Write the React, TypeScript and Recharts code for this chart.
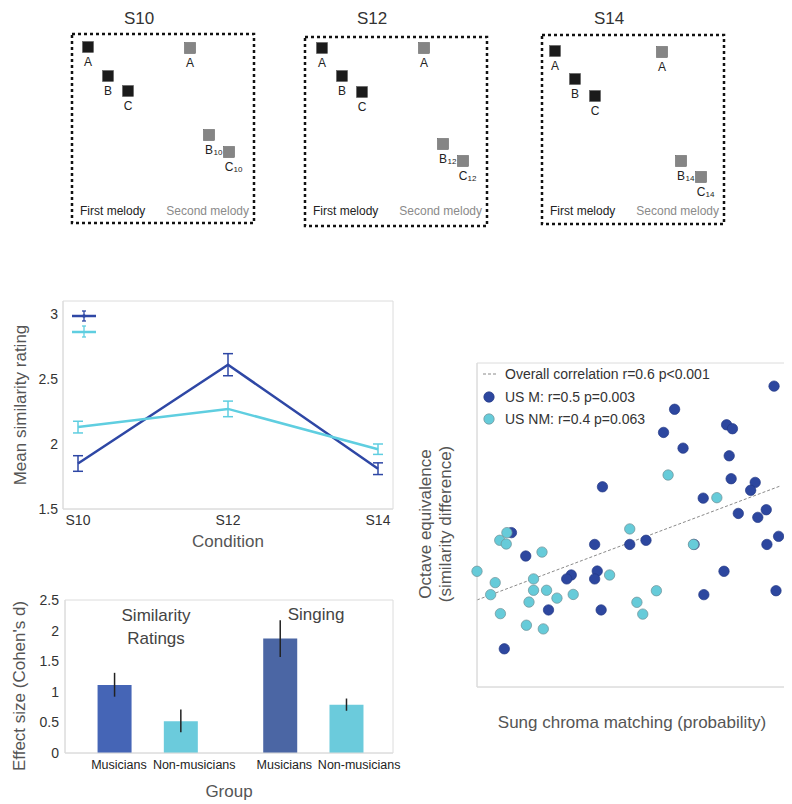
import React from "react";
import {
  LineChart,
  Line,
  BarChart,
  Bar,
  Cell,
  ScatterChart,
  Scatter,
  XAxis,
  YAxis,
  ErrorBar,
  ReferenceArea,
  ReferenceLine,
} from "recharts";

const FONT = "'Liberation Sans', Arial, Helvetica, sans-serif";
const DARK = "#2e47a5";
const CYAN = "#5fcee0";
const FRAME = "#dcdcdc";

// schematic panels: note positions inside each box (box units, origin top-left)
const panelNames = ["S10", "S12", "S14"];
const noteLetters = ["A", "B", "C"];
const firstX = [[16, 36, 56], [17, 37, 57], [13, 33, 53]];
const firstY = [[13, 42, 57], [11, 39, 55], [16, 44, 61]];
const secondX = [[118, 137, 157], [119, 138, 158], [120, 139, 159]];
const secondY = [[14, 101, 118], [11, 107, 124], [17, 126, 142]];
const secondSubs = [["", "10", "10"], ["", "12", "12"], ["", "14", "14"]];

// similarity ratings by condition
const conditions = [10, 12, 14];
const conditionLabels = ["S10", "S12", "S14"];
const ratingTicks = [1.5, 2, 2.5, 3];
const musiciansMean = [1.85, 2.61, 1.81];
const musiciansErr = [0.06, 0.085, 0.045];
const nonMusiciansMean = [2.13, 2.27, 1.96];
const nonMusiciansErr = [0.045, 0.06, 0.04];

// effect sizes
const groupPos = [1, 2, 3.5, 4.5];
const groupTickPos = [1.065, 2.2, 3.56, 4.69];
const groupLabels = ["Musicians", "Non-musicians", "Musicians", "Non-musicians"];
const effectTicks = [0, 0.5, 1, 1.5, 2, 2.5];
const effectSize = [1.11, 0.52, 1.87, 0.79];
const effectErrLow = [0.19, 0.18, 0.3, 0.1];
const effectErrHigh = [0.2, 0.19, 0.3, 0.1];
const barColors = ["#4565b6", "#6bcbdc", "#4b66a4", "#6bcbdc"];

// chroma matching vs octave equivalence
const musiciansPts: [number, number][] = [
  [0.693, 0.265], [0.553, 0.067], [0.681, 0.016], [0.575, -0.034], [0.645, -0.116],
  [0.638, -0.133], [0.685, -0.099], [0.681, -0.133], [0.61, -0.267], [0.691, -0.267],
  [0.542, -0.435], [0.735, 0.016], [0.957, 0.7], [0.804, 0.6], [0.787, 0.5],
  [0.884, 0.533], [0.893, 0.516], [0.817, 0.432], [0.888, 0.399], [0.891, 0.3],
  [0.928, 0.284], [0.921, 0.25], [0.848, 0.216], [0.902, 0.15], [0.945, 0.166],
  [0.932, 0.133], [0.76, 0.034], [0.834, 0.016], [0.946, 0.016], [0.964, 0.051],
  [0.88, -0.1], [0.849, -0.201], [0.96, -0.184],
];
const nonMusiciansPts: [number, number][] = [
  [0.546, 0.067], [0.535, 0.034], [0.545, 0.018], [0.6, -0.017], [0.5, -0.1],
  [0.528, -0.149], [0.587, -0.133], [0.521, -0.201], [0.587, -0.182], [0.607, -0.182],
  [0.623, -0.216], [0.648, -0.2], [0.58, -0.233], [0.536, -0.283], [0.576, -0.333],
  [0.602, -0.349], [0.735, 0.083], [0.704, -0.116], [0.794, 0.316], [0.869, 0.218],
  [0.833, 0.016], [0.776, -0.184], [0.746, -0.234], [0.755, -0.285],
];
const overallFit = [
  { x: 0.5, y: -0.224 },
  { x: 0.966, y: 0.268 },
];

const boxLeft = [72, 305, 542];
const boxTop = [34, 37, 35];
const BOX_W = 182;
const BOX_H = 189;

function Txt({
  x,
  y,
  size,
  color = "#444",
  rotate = 0,
  anchor = "middle",
  lineHeight = 1.15,
  children,
}: any) {
  const tx = anchor === "middle" ? "-50%" : anchor === "end" ? "-100%" : "0";
  return (
    <div
      style={{
        position: "absolute",
        left: x - 8,
        top: y - 8,
        transform: `translate(${tx},-50%) rotate(${rotate}deg)`,
        fontSize: size,
        color,
        whiteSpace: "nowrap",
        lineHeight,
        textAlign: "center",
      }}
    >
      {children}
    </div>
  );
}

function noteShape(fill: string) {
  return (props: any) => {
    const { cx, cy, payload } = props;
    return (
      <g>
        <rect x={cx - 5.5} y={cy - 5.5} width={11} height={11} fill={fill} stroke="#555" strokeWidth={0.5} />
        <text x={cx} y={cy + 19} textAnchor="middle" fontSize={12} fill="#222">
          {payload.label}
        </text>
        {payload.sub ? (
          <text x={cx + 4.5} y={cy + 20} textAnchor="start" fontSize={8} fill="#222">
            {payload.sub}
          </text>
        ) : null}
      </g>
    );
  };
}

function MelodyPanel({ i }: { i: number }) {
  const M = 6;
  const first = noteLetters.map((label, k) => ({ x: firstX[i][k], y: firstY[i][k], label, sub: "" }));
  const second = noteLetters.map((label, k) => ({
    x: secondX[i][k],
    y: secondY[i][k],
    label,
    sub: secondSubs[i][k],
  }));
  return (
    <div style={{ position: "absolute", left: boxLeft[i] - 8 - M, top: boxTop[i] - 8 - M }}>
      <ScatterChart width={BOX_W + 2 * M} height={BOX_H + 2 * M} margin={{ top: M, right: M, bottom: M, left: M }}>
        <XAxis type="number" dataKey="x" domain={[0, BOX_W]} hide />
        <YAxis type="number" dataKey="y" domain={[0, BOX_H]} reversed hide />
        <ReferenceArea
          x1={0}
          x2={BOX_W}
          y1={0}
          y2={BOX_H}
          fill="none"
          fillOpacity={0}
          stroke="#111"
          strokeWidth={2.5}
          strokeDasharray="3 3"
        />
        <Scatter data={first} shape={noteShape("#1b1b1b")} isAnimationActive={false} />
        <Scatter data={second} shape={noteShape("#858585")} isAnimationActive={false} />
      </ScatterChart>
    </div>
  );
}

const lineData = conditions.map((c, i) => ({
  cond: c,
  mus: musiciansMean[i],
  musErr: musiciansErr[i],
  non: nonMusiciansMean[i],
  nonErr: nonMusiciansErr[i],
}));

const barData = groupPos.map((p, i) => ({
  pos: p,
  d: effectSize[i],
  err: [effectErrLow[i], effectErrHigh[i]],
}));

const musData = musiciansPts.map(([x, y]) => ({ x, y }));
const nonData = nonMusiciansPts.map(([x, y]) => ({ x, y }));

const dot = (fill: string, stroke: string) => (props: any) => (
  <circle cx={props.cx} cy={props.cy} r={5.2} fill={fill} stroke={stroke} strokeWidth={0.7} />
);

const tickStyle = { fill: "#333", fontSize: 14 };

export default function App() {
  return (
    <div style={{ position: "relative", width: 784, height: 796, overflow: "hidden", fontFamily: FONT }}>
      {/* schematic panels */}
      {panelNames.map((name, i) => (
        <React.Fragment key={name}>
          <MelodyPanel i={i} />
          <Txt x={boxLeft[i] + 67} y={19} size={17} color="#333">
            {name}
          </Txt>
          <Txt x={boxLeft[i] + 8} y={212} size={12} color="#222" anchor="start">
            First melody
          </Txt>
          <Txt x={boxLeft[i] + 177} y={212} size={12} color="#8a8a8a" anchor="end">
            Second melody
          </Txt>
        </React.Fragment>
      ))}

      {/* mean similarity rating */}
      <div style={{ position: "absolute", left: 0, top: 282 }}>
        <LineChart width={400} height={265} data={lineData} margin={{ top: 11, right: 15, left: 0, bottom: 0 }}>
          <XAxis
            dataKey="cond"
            type="number"
            domain={[9.8, 14.2]}
            ticks={conditions}
            interval={0}
            tickFormatter={(v: number) => conditionLabels[conditions.indexOf(v)]}
            axisLine={{ stroke: FRAME }}
            tickLine={false}
            tickSize={0}
            tickMargin={6}
            height={46}
            tick={tickStyle}
          />
          <YAxis
            type="number"
            domain={[1.5, 3.1]}
            ticks={ratingTicks}
            interval={0}
            width={55}
            axisLine={{ stroke: FRAME }}
            tickLine={false}
            tickSize={0}
            tickMargin={5}
            tick={tickStyle}
          />
          <ReferenceArea x1={9.8} x2={14.2} y1={1.5} y2={3.1} fill="none" fillOpacity={0} stroke={FRAME} />
          <Line dataKey="mus" stroke={DARK} strokeWidth={2.5} dot={false} isAnimationActive={false}>
            <ErrorBar dataKey="musErr" width={5} stroke={DARK} strokeWidth={1.5} />
          </Line>
          <Line dataKey="non" stroke={CYAN} strokeWidth={2.5} dot={false} isAnimationActive={false}>
            <ErrorBar dataKey="nonErr" width={5} stroke={CYAN} strokeWidth={1.5} />
          </Line>
        </LineChart>
      </div>
      <div style={{ position: "absolute", left: 64, top: 300 }}>
        <svg width={26} height={34}>
          <line x1={0} x2={24} y1={8} y2={8} stroke={DARK} strokeWidth={2.5} />
          <line x1={12} x2={12} y1={3} y2={13} stroke={DARK} strokeWidth={1.3} />
          <line x1={10} x2={14} y1={3} y2={3} stroke={DARK} strokeWidth={1.3} />
          <line x1={10} x2={14} y1={13} y2={13} stroke={DARK} strokeWidth={1.3} />
          <circle cx={12} cy={8} r={1.8} fill={DARK} />
          <line x1={0} x2={24} y1={24} y2={24} stroke={CYAN} strokeWidth={2.5} />
          <line x1={12} x2={12} y1={18} y2={29} stroke={CYAN} strokeWidth={1.3} />
          <line x1={10} x2={14} y1={18} y2={18} stroke={CYAN} strokeWidth={1.3} />
          <line x1={10} x2={14} y1={29} y2={29} stroke={CYAN} strokeWidth={1.3} />
        </svg>
      </div>
      <Txt x={21} y={405} size={17} color="#555" rotate={-90}>
        Mean similarity rating
      </Txt>
      <Txt x={228} y={542} size={17} color="#555">
        Condition
      </Txt>

      {/* effect size */}
      <div style={{ position: "absolute", left: 0, top: 577 }}>
        <BarChart width={400} height={200} data={barData} margin={{ top: 15, right: 15, left: 0, bottom: 0 }}>
          <XAxis
            dataKey="pos"
            type="number"
            domain={[0.25, 5.2]}
            ticks={groupTickPos}
            interval={0}
            tickFormatter={(v: number) => groupLabels[groupTickPos.indexOf(v)]}
            axisLine={{ stroke: FRAME }}
            tickLine={false}
            tickSize={0}
            tickMargin={7}
            height={32}
            tick={{ fill: "#222", fontSize: 12.5 }}
          />
          <YAxis
            type="number"
            domain={[0, 2.5]}
            ticks={effectTicks}
            interval={0}
            width={57}
            axisLine={{ stroke: FRAME }}
            tickLine={false}
            tickSize={0}
            tickMargin={6}
            tick={tickStyle}
          />
          <ReferenceArea x1={0.25} x2={5.2} y1={0} y2={2.5} fill="none" fillOpacity={0} stroke={FRAME} />
          <Bar dataKey="d" barSize={34} isAnimationActive={false}>
            {barData.map((_, i) => (
              <Cell key={i} fill={barColors[i]} />
            ))}
            <ErrorBar dataKey="err" width={0} stroke="#222" strokeWidth={1.5} />
          </Bar>
        </BarChart>
      </div>
      <Txt x={20} y={686} size={17} color="#555" rotate={-90}>
        Effect size (Cohen's d)
      </Txt>
      <Txt x={229} y={792} size={17} color="#555">
        Group
      </Txt>
      <Txt x={156} y={627} size={17} color="#444" lineHeight="23px">
        Similarity
        <br />
        Ratings
      </Txt>
      <Txt x={316} y={615} size={17} color="#444">
        Singing
      </Txt>

      {/* scatter */}
      <div style={{ position: "absolute", left: 392, top: 347 }}>
        <ScatterChart width={410} height={338} margin={{ top: 8, right: 8, left: 77, bottom: 6 }}>
          <XAxis
            type="number"
            dataKey="x"
            domain={[0.5, 1.0]}
            ticks={[0.6, 0.7, 0.8, 0.9]}
            tick={false}
            mirror
            height={1}
            tickSize={4}
            axisLine={{ stroke: FRAME }}
            tickLine={{ stroke: "#cfcfcf" }}
          />
          <YAxis
            type="number"
            dataKey="y"
            domain={[-0.6, 0.8]}
            ticks={[-0.4, -0.2, 0, 0.2, 0.4, 0.6]}
            tick={false}
            mirror
            width={1}
            tickSize={4}
            axisLine={{ stroke: FRAME }}
            tickLine={{ stroke: "#cfcfcf" }}
          />
          <ReferenceArea x1={0.5} x2={1.0} y1={-0.6} y2={0.8} fill="none" fillOpacity={0} stroke={FRAME} />
          <ReferenceLine segment={overallFit} stroke="#8a8a8a" strokeDasharray="3 2" strokeWidth={1} />
          <Scatter data={musData} shape={dot("#2d479f", "#243a85")} isAnimationActive={false} />
          <Scatter data={nonData} shape={dot("#66cbd9", "#6f8f95")} isAnimationActive={false} />
        </ScatterChart>
      </div>
      <div style={{ position: "absolute", left: 474, top: 358 }}>
        <svg width={18} height={70}>
          <line x1={1} x2={15} y1={8} y2={8} stroke="#8a8a8a" strokeDasharray="3 2" />
          <circle cx={7} cy={31} r={5.2} fill="#2d479f" stroke="#243a85" strokeWidth={0.7} />
          <circle cx={7} cy={53} r={5.2} fill="#66cbd9" stroke="#6f8f95" strokeWidth={0.7} />
        </svg>
      </div>
      <Txt x={505} y={374} size={14} color="#333" anchor="start">
        Overall correlation r=0.6 p&lt;0.001
      </Txt>
      <Txt x={505} y={397} size={14} color="#333" anchor="start">
        US M: r=0.5 p=0.003
      </Txt>
      <Txt x={505} y={419} size={14} color="#333" anchor="start">
        US NM: r=0.4 p=0.063
      </Txt>
      <Txt x={436} y={524} size={17} color="#555" rotate={-90} lineHeight="20px">
        Octave equivalence
        <br />
        (similarity difference)
      </Txt>
      <Txt x={632} y={723} size={17} color="#555">
        Sung chroma matching (probability)
      </Txt>
    </div>
  );
}
